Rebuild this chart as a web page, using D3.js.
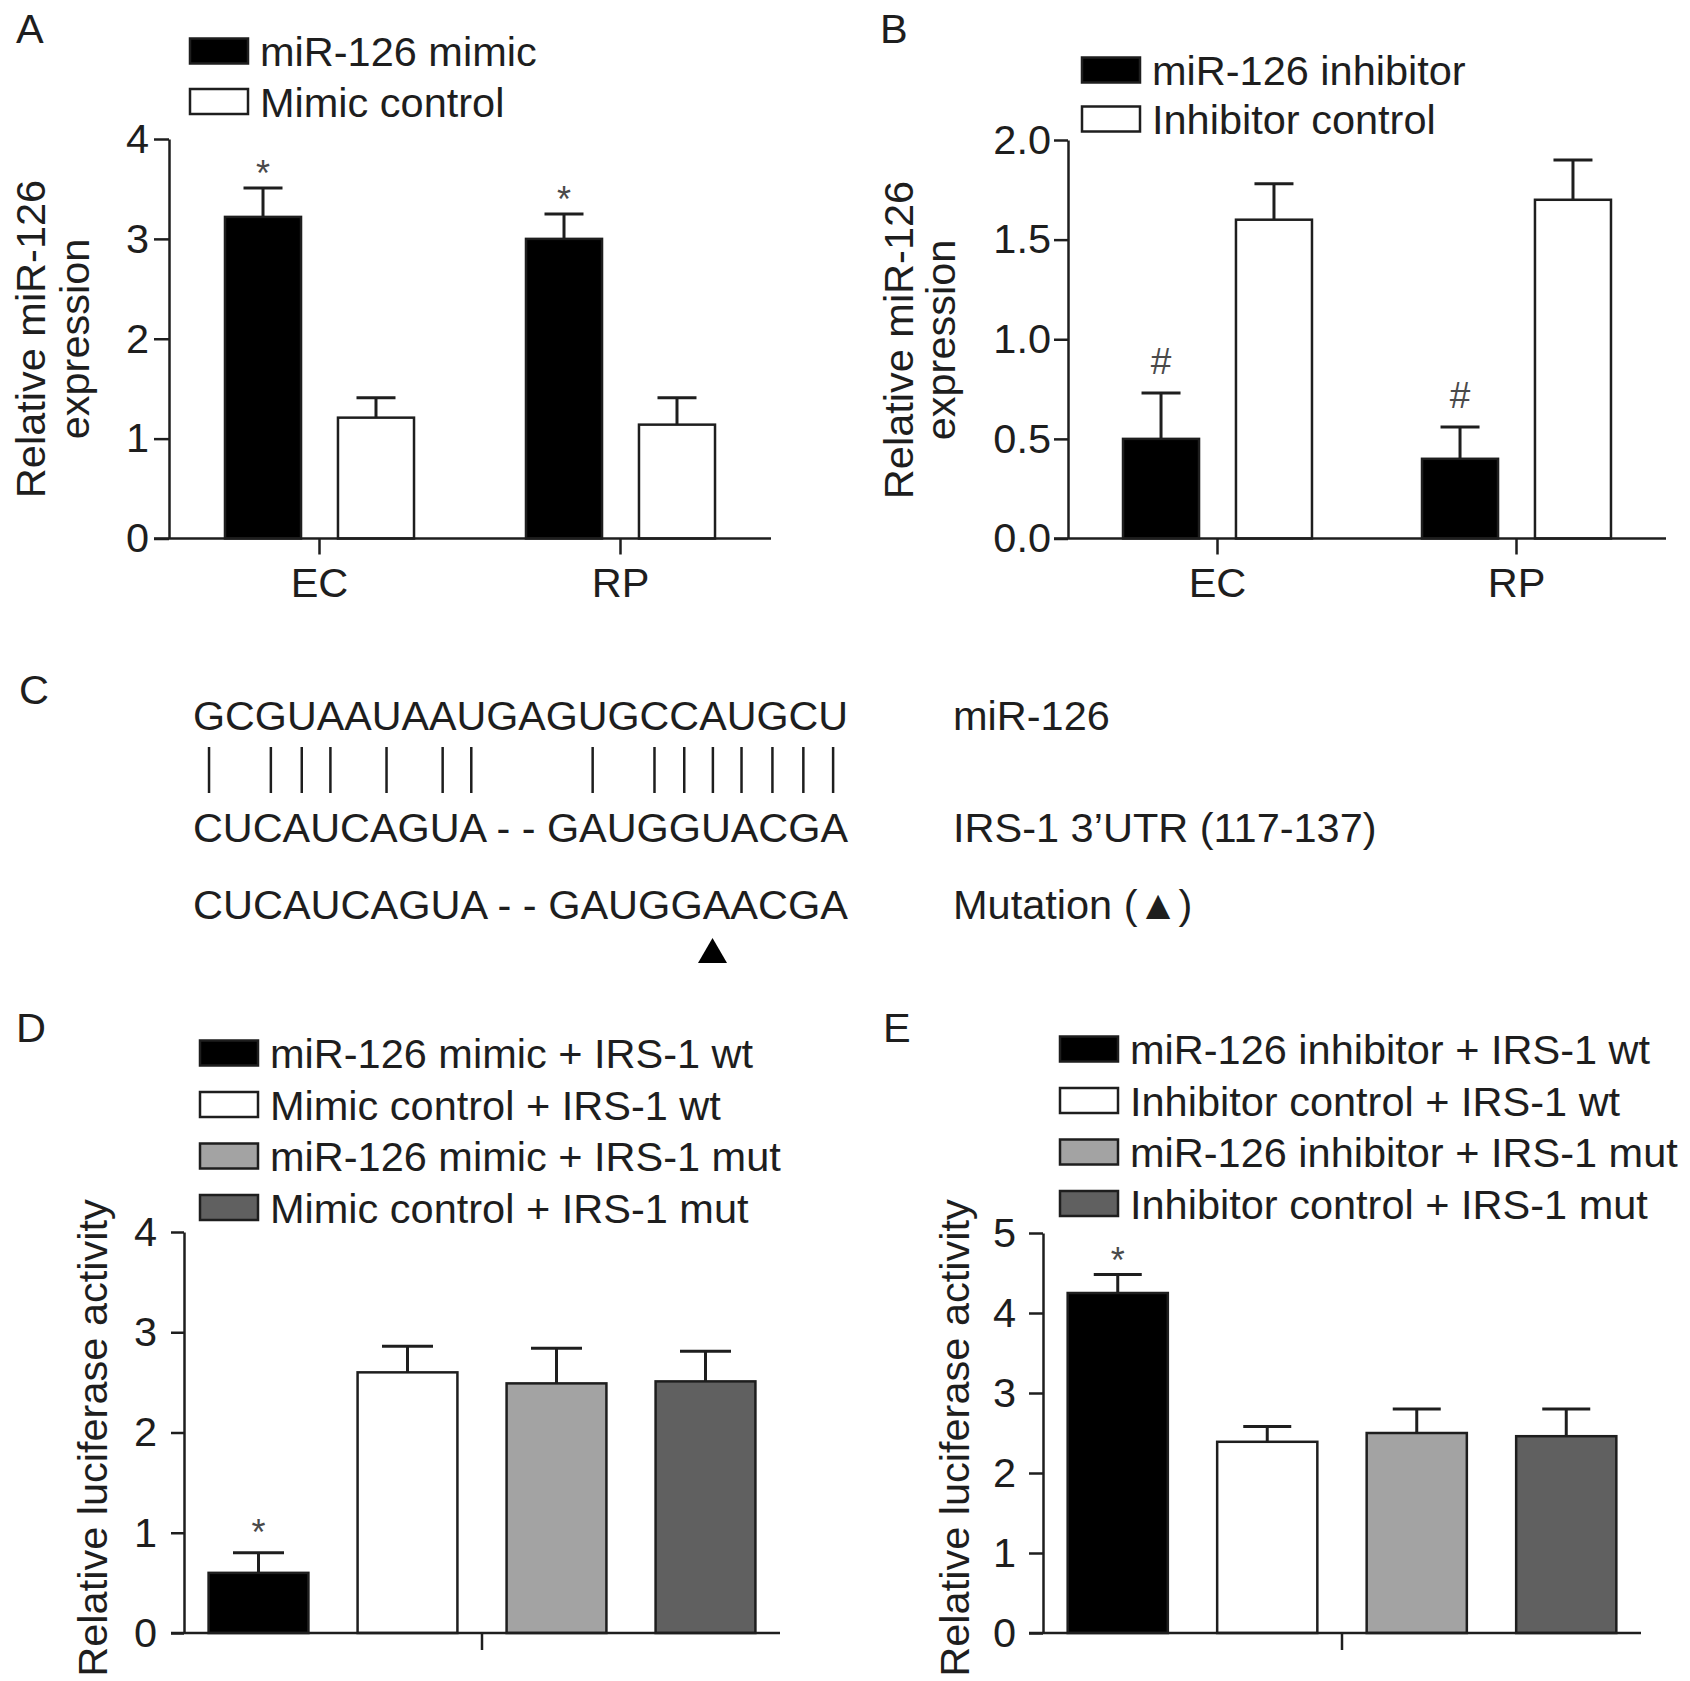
<!DOCTYPE html>
<html>
<head>
<meta charset="utf-8">
<script src="https://cdn.jsdelivr.net/npm/d3@7"></script>
<style>
  body { margin: 0; background: #fff; }
  svg { display: block; font-family: "Liberation Sans", Arial, sans-serif; }
</style>
</head>
<body>
<svg id="fig" width="1690" height="1681"></svg>
<script>
// ---- data ----

// A: miR-126 expression after mimic
const aCategories = ["EC", "RP"];
const aSeries = ["miR-126 mimic", "Mimic control"];
const aMimic = [3.22, 3.00];
const aMimicSD = [0.29, 0.25];
const aControl = [1.21, 1.14];
const aControlSD = [0.20, 0.27];
const aTicks = [0, 1, 2, 3, 4];
const aMarks = ["*", "*"];

// B: miR-126 expression after inhibitor
const bCategories = ["EC", "RP"];
const bSeries = ["miR-126 inhibitor", "Inhibitor control"];
const bInhibitor = [0.50, 0.40];
const bInhibitorSD = [0.23, 0.16];
const bControl = [1.60, 1.70];
const bControlSD = [0.18, 0.20];
const bTicks = [0, 0.5, 1.0, 1.5, 2.0];
const bMarks = ["#", "#"];

// C: sequence alignment
const seqMiR = "GCGUAAUAAUGAGUGCCAUGCU";
const seqWild = "CUCAUCAGUA - - GAUGGUACGA";
const seqMut = "CUCAUCAGUA - - GAUGGAACGA";
const seqNames = ["miR-126", "IRS-1 3\u2019UTR (117-137)", "Mutation (\u25B2)"];
const pairedIdx = [0, 2, 3, 4, 6, 8, 9, 13, 15, 16, 17, 18, 19, 20, 21];
const mutatedIdx = 20;

// D: luciferase, mimic
const dSeries = ["miR-126 mimic + IRS-1 wt", "Mimic control + IRS-1 wt",
                 "miR-126 mimic + IRS-1 mut", "Mimic control + IRS-1 mut"];
const dValues = [0.60, 2.60, 2.49, 2.51];
const dSD = [0.20, 0.26, 0.35, 0.30];
const dTicks = [0, 1, 2, 3, 4];
const dMarks = ["*", "", "", ""];

// E: luciferase, inhibitor
const eSeries = ["miR-126 inhibitor + IRS-1 wt", "Inhibitor control + IRS-1 wt",
                 "miR-126 inhibitor + IRS-1 mut", "Inhibitor control + IRS-1 mut"];
const eValues = [4.25, 2.39, 2.50, 2.46];
const eSD = [0.23, 0.19, 0.30, 0.34];
const eTicks = [0, 1, 2, 3, 4, 5];
const eMarks = ["*", "", "", ""];

const pairFills = ["#000000", "#ffffff"];
const quadFills = ["#000000", "#ffffff", "#a3a3a3", "#606060"];

// ---- drawing ----
const FS = 41.5;
const INK = "#1e1e1e";
const svg = d3.select("#fig");

function letter(x, y, t) {
  svg.append("text").attr("x", x).attr("y", y)
    .attr("font-size", FS).attr("fill", INK).text(t);
}

function legend(g, names, fills, lay) {
  const row = g.selectAll("g.leg").data(names).join("g")
    .attr("class", "leg")
    .attr("transform", (d, i) => `translate(${lay.x},${lay.y + i * lay.step})`);
  row.append("rect")
    .attr("x", 0).attr("y", -12.5).attr("width", 58).attr("height", 25)
    .attr("fill", (d, i) => fills[i])
    .attr("stroke", INK).attr("stroke-width", 2.5);
  row.append("text")
    .attr("x", 70).attr("y", 15)
    .attr("font-size", FS).attr("fill", INK)
    .text(d => d);
}

function yAxis(g, y, ticks, fmt, lay) {
  const ax = g.append("g")
    .attr("transform", `translate(${lay.axisX},0)`)
    .attr("color", INK)
    .call(d3.axisLeft(y).tickValues(ticks).tickFormat(fmt)
      .tickSize(lay.tick).tickPadding(lay.pad).tickSizeOuter(0));
  ax.selectAll("path, line").attr("stroke-width", 2.5);
  ax.selectAll("text").attr("font-size", FS).attr("font-family", null).attr("fill", INK);
}

function xAxis(g, x, lay, showLabels) {
  g.append("line")
    .attr("x1", lay.lineX).attr("x2", lay.right)
    .attr("y1", lay.y0).attr("y2", lay.y0)
    .attr("stroke", INK).attr("stroke-width", 2.5);
  const ax = g.append("g")
    .attr("transform", `translate(0,${lay.y0})`)
    .attr("color", INK)
    .call(d3.axisBottom(x).tickSize(lay.catTick).tickPadding(13).tickSizeOuter(0));
  ax.select(".domain").remove();
  ax.selectAll("line").attr("stroke-width", 2.5);
  ax.selectAll("text").attr("font-size", FS).attr("font-family", null).attr("fill", INK);
  if (!showLabels) ax.selectAll("text").remove();
}

function yLabel(g, lines, xs, cy) {
  lines.forEach((t, i) => {
    g.append("text")
      .attr("transform", `translate(${xs[i]},${cy}) rotate(-90)`)
      .attr("text-anchor", "middle")
      .attr("font-size", FS).attr("fill", INK)
      .text(t);
  });
}

function errorBars(g, data, y, cap, markGap) {
  const eb = g.selectAll("g.err").data(data).join("g").attr("class", "err");
  eb.append("line")
    .attr("x1", d => d.cx).attr("x2", d => d.cx)
    .attr("y1", d => y(d.v)).attr("y2", d => y(d.v + d.sd))
    .attr("stroke", INK).attr("stroke-width", 3);
  eb.append("line")
    .attr("x1", d => d.cx - cap / 2).attr("x2", d => d.cx + cap / 2)
    .attr("y1", d => y(d.v + d.sd)).attr("y2", d => y(d.v + d.sd))
    .attr("stroke", INK).attr("stroke-width", 3);
  eb.filter(d => d.mark).append("text")
    .attr("x", d => d.cx)
    .attr("y", d => y(d.v + d.sd) - markGap)
    .attr("text-anchor", "middle")
    .attr("font-size", d => d.mark === "#" ? 37 : 36)
    .attr("fill", "#4a4a4a")
    .text(d => d.mark);
}

function bars(g, data, y) {
  g.selectAll("rect.bar").data(data).join("rect")
    .attr("class", "bar")
    .attr("x", d => d.x).attr("width", d => d.w)
    .attr("y", d => y(d.v)).attr("height", d => y(0) - y(d.v))
    .attr("fill", d => d.fill)
    .attr("stroke", INK).attr("stroke-width", 2.5);
}

// grouped panel (A, B)
function groupedPanel(lay, cats, series, means, sds, marks, ticks, fmt, yMax, ylab) {
  const g = svg.append("g");
  const y = d3.scaleLinear().domain([0, yMax]).range([lay.y0, lay.yTop]);
  const x0 = d3.scaleBand().domain(cats).range([lay.axisX, lay.right])
    .paddingInner(lay.groupPad).paddingOuter(lay.groupPad / 2);
  const x1 = d3.scaleBand().domain(series).range([0, x0.bandwidth()])
    .paddingInner(lay.barPad);

  const data = [];
  series.forEach((s, si) => {
    cats.forEach((c, ci) => {
      data.push({
        x: x0(c) + x1(s), w: x1.bandwidth(),
        cx: x0(c) + x1(s) + x1.bandwidth() / 2,
        v: means[si][ci], sd: sds[si][ci],
        fill: pairFills[si],
        mark: si === 0 ? marks[ci] : ""
      });
    });
  });

  errorBars(g, data, y, lay.cap, lay.markGap);
  bars(g, data, y);
  yAxis(g, y, ticks, fmt, lay);
  xAxis(g, x0, lay, true);
  yLabel(g, ylab, lay.ylabX, lay.ylabY);
  legend(g, series, pairFills, lay.legend);
}

// four-bar panel (D, E)
function quadPanel(lay, series, values, sds, marks, ticks, yMax) {
  const g = svg.append("g");
  const y = d3.scaleLinear().domain([0, yMax]).range([lay.y0, lay.yTop]);
  const x = d3.scaleBand().domain(series).range([lay.axisX, lay.right])
    .paddingInner(lay.barPad).paddingOuter(lay.barPad / 2);
  const xOne = d3.scaleBand().domain([""]).range([lay.axisX, lay.right]);

  const data = series.map((s, i) => ({
    x: x(s), w: x.bandwidth(), cx: x(s) + x.bandwidth() / 2,
    v: values[i], sd: sds[i], fill: quadFills[i], mark: marks[i]
  }));

  errorBars(g, data, y, lay.cap, lay.markGap);
  bars(g, data, y);
  yAxis(g, y, ticks, d3.format("d"), lay);
  xAxis(g, xOne, lay, false);
  yLabel(g, ["Relative luciferase activity"], [lay.ylabX], lay.ylabY);
  legend(g, series, quadFills, lay.legend);
}

// ---- panel A ----
letter(16, 43, "A");
groupedPanel(
  { axisX: 169, right: 771, lineX: 154, y0: 538.5, yTop: 139, tick: 15, pad: 5, catTick: 16,
    groupPad: 0.372, barPad: 0.327, cap: 39, markGap: 2, ylabX: [45, 89], ylabY: 339,
    legend: { x: 190, y: 51, step: 50.5 } },
  aCategories, aSeries, [aMimic, aControl], [aMimicSD, aControlSD], aMarks,
  aTicks, d3.format("d"), 4, ["Relative miR-126", "expression"]);

// ---- panel B ----
letter(880, 43, "B");
groupedPanel(
  { axisX: 1068, right: 1666, lineX: 1054, y0: 538.5, yTop: 140, tick: 14, pad: 3, catTick: 16,
    groupPad: 0.368, barPad: 0.327, cap: 39, markGap: 19, ylabX: [913, 955], ylabY: 340,
    legend: { x: 1082, y: 70, step: 49 } },
  bCategories, bSeries, [bInhibitor, bControl], [bInhibitorSD, bControlSD], bMarks,
  bTicks, d3.format(".1f"), 2, ["Relative miR-126", "expression"]);

// ---- panel C ----
letter(19, 704, "C");
const cLay = { x: 193, width: 655, baselines: [730, 842, 919], labelX: 953,
               pairTop: 747, pairBottom: 793, triTop: 938, triBottom: 963 };
const cG = svg.append("g");
const seqNodes = [seqMiR, seqWild, seqMut].map((s, i) =>
  cG.append("text")
    .attr("x", cLay.x).attr("y", cLay.baselines[i])
    .attr("textLength", cLay.width).attr("lengthAdjust", "spacingAndGlyphs")
    .attr("font-size", FS).attr("fill", INK)
    .text(s).node());
cG.selectAll("text.seqname").data(seqNames).join("text")
  .attr("class", "seqname")
  .attr("x", cLay.labelX).attr("y", (d, i) => cLay.baselines[i])
  .attr("font-size", FS).attr("fill", INK)
  .text(d => d);

function charCenter(node, i) {
  const b = node.getExtentOfChar(i);
  return b.x + b.width / 2;
}
cG.selectAll("line.pair").data(pairedIdx).join("line")
  .attr("class", "pair")
  .attr("x1", d => charCenter(seqNodes[0], d)).attr("x2", d => charCenter(seqNodes[0], d))
  .attr("y1", cLay.pairTop).attr("y2", cLay.pairBottom)
  .attr("stroke", INK).attr("stroke-width", 2.5);

const triX = charCenter(seqNodes[2], mutatedIdx) - 4;
const triH = cLay.triBottom - cLay.triTop;
cG.append("path")
  .attr("d", `M${triX},${cLay.triTop} L${triX + triH * 0.58},${cLay.triBottom} L${triX - triH * 0.58},${cLay.triBottom} Z`)
  .attr("fill", "#000");

// ---- panel D ----
letter(16, 1042, "D");
quadPanel(
  { axisX: 184, right: 780, lineX: 171, y0: 1633, yTop: 1232, tick: 13, pad: 14, catTick: 17,
    barPad: 0.33, cap: 51, markGap: 8, ylabX: 107, ylabY: 1438,
    legend: { x: 200, y: 1053, step: 51.5 } },
  dSeries, dValues, dSD, dMarks, dTicks, 4);

// ---- panel E ----
letter(883, 1042, "E");
quadPanel(
  { axisX: 1043, right: 1641, lineX: 1029, y0: 1633, yTop: 1233, tick: 14, pad: 13, catTick: 17,
    barPad: 0.33, cap: 48, markGap: 2, ylabX: 969, ylabY: 1438,
    legend: { x: 1060, y: 1049, step: 51.5 } },
  eSeries, eValues, eSD, eMarks, eTicks, 5);
</script>
</body>
</html>
